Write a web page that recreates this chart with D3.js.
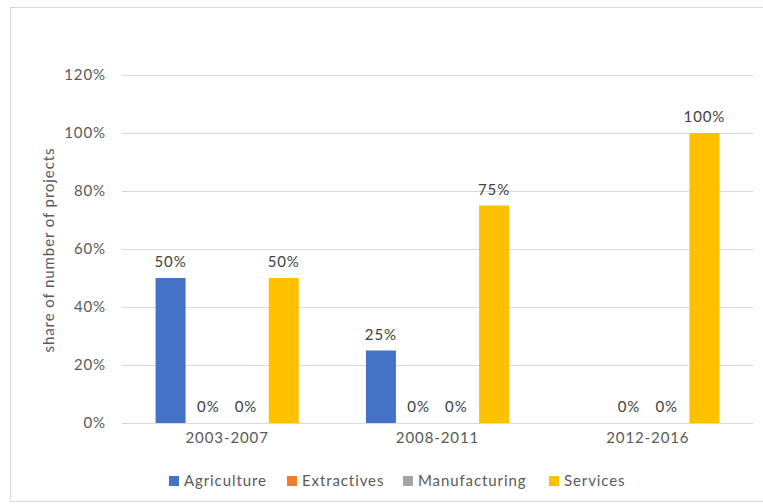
<!DOCTYPE html>
<html>
<head>
<meta charset="utf-8">
<script src="https://cdn.jsdelivr.net/npm/d3@7"></script>
<style>
  body { margin: 0; background: #fff; }
  text { font-family: Lato, "Open Sans", sans-serif; fill: #595959; letter-spacing: 0.9px; }
</style>
</head>
<body>
<svg id="chart" width="763" height="504"></svg>
<script>
// ── Data ──────────────────────────────────────────────
const periods = ['2003-2007', '2008-2011', '2012-2016'];
const sectors = ['Agriculture', 'Extractives', 'Manufacturing', 'Services'];
const colors = ['#4472C4', '#ED7D31', '#A5A5A5', '#FFC000'];
const agriculture = [0.50, 0.25, null];
const extractives = [0, 0, 0];
const manufacturing = [0, 0, 0];
const services = [0.50, 0.75, 1.00];
const yTicks = [0, 0.2, 0.4, 0.6, 0.8, 1.0, 1.2];

const seriesValues = [agriculture, extractives, manufacturing, services];
const rows = periods.map((p, i) => ({
  period: p,
  values: sectors.map((s, j) => ({ key: s, value: seriesValues[j][i], color: colors[j] }))
}));

const svg = d3.select('#chart');
const margin = { top: 75, right: 10, bottom: 81, left: 122 };
const width = 753 - margin.left;
const height = 423 - margin.top;
const fs = '15px';

// chart frame
svg.append('rect')
  .attr('x', 10.5).attr('y', 7.5)
  .attr('width', 760).attr('height', 494)
  .attr('fill', 'none').attr('stroke', '#d9d9d9');

const g = svg.append('g').attr('transform', `translate(${margin.left},${margin.top})`);

const y = d3.scaleLinear().domain([0, 1.2]).range([height, 0]);
const x0 = d3.scaleBand().domain(periods).range([0, width]);
const x1 = d3.scaleBand().domain(sectors).range([0, x0.bandwidth()])
  .paddingInner(0.204).paddingOuter(0.89);

// gridlines
g.selectAll('.grid').data(yTicks)
  .join('line')
  .attr('class', 'grid')
  .attr('x1', 0).attr('x2', width)
  .attr('y1', d => Math.round(y(d)) + 0.5).attr('y2', d => Math.round(y(d)) + 0.5)
  .attr('stroke', '#d9d9d9').attr('stroke-width', 1);

// y tick labels
g.selectAll('.ytick').data(yTicks)
  .join('text')
  .attr('class', 'ytick')
  .attr('x', -16)
  .attr('y', d => y(d))
  .attr('dy', '0.35em')
  .attr('text-anchor', 'end')
  .attr('font-size', fs)
  .text(d3.format('.0%'));

// y title
svg.append('text')
  .attr('transform', `translate(54,${margin.top + height / 2 + 1}) rotate(-90)`)
  .attr('text-anchor', 'middle')
  .attr('font-size', fs)
  .text('share of number of projects');

// bars
const groups = g.selectAll('.grp').data(rows)
  .join('g')
  .attr('class', 'grp')
  .attr('transform', d => `translate(${x0(d.period)},0)`);

groups.selectAll('rect').data(d => d.values.filter(v => v.value > 0))
  .join('rect')
  .attr('x', d => x1(d.key))
  .attr('y', d => y(d.value))
  .attr('width', x1.bandwidth())
  .attr('height', d => height - y(d.value))
  .attr('fill', d => d.color);

groups.selectAll('.lbl').data(d => d.values.filter(v => v.value !== null))
  .join('text')
  .attr('class', 'lbl')
  .attr('x', d => x1(d.key) + x1.bandwidth() / 2)
  .attr('y', d => y(d.value) - 11)
  .attr('text-anchor', 'middle')
  .attr('font-size', fs)
  .style('fill', '#404040')
  .text(d => d3.format('.0%')(d.value));

// x labels
g.selectAll('.xlbl').data(periods)
  .join('text')
  .attr('class', 'xlbl')
  .attr('x', d => x0(d) + x0.bandwidth() / 2)
  .attr('y', height + 20)
  .attr('text-anchor', 'middle')
  .attr('font-size', fs)
  .text(d => d);

// legend
const legendX = [169, 287, 403, 549];
const legend = svg.append('g');
sectors.forEach((s, i) => {
  legend.append('rect')
    .attr('x', legendX[i]).attr('y', 476)
    .attr('width', 10).attr('height', 10)
    .attr('fill', colors[i]);
  legend.append('text')
    .attr('x', legendX[i] + 15).attr('y', 481)
    .attr('dy', '0.35em')
    .attr('font-size', fs)
    .text(s);
});
</script>
</body>
</html>
